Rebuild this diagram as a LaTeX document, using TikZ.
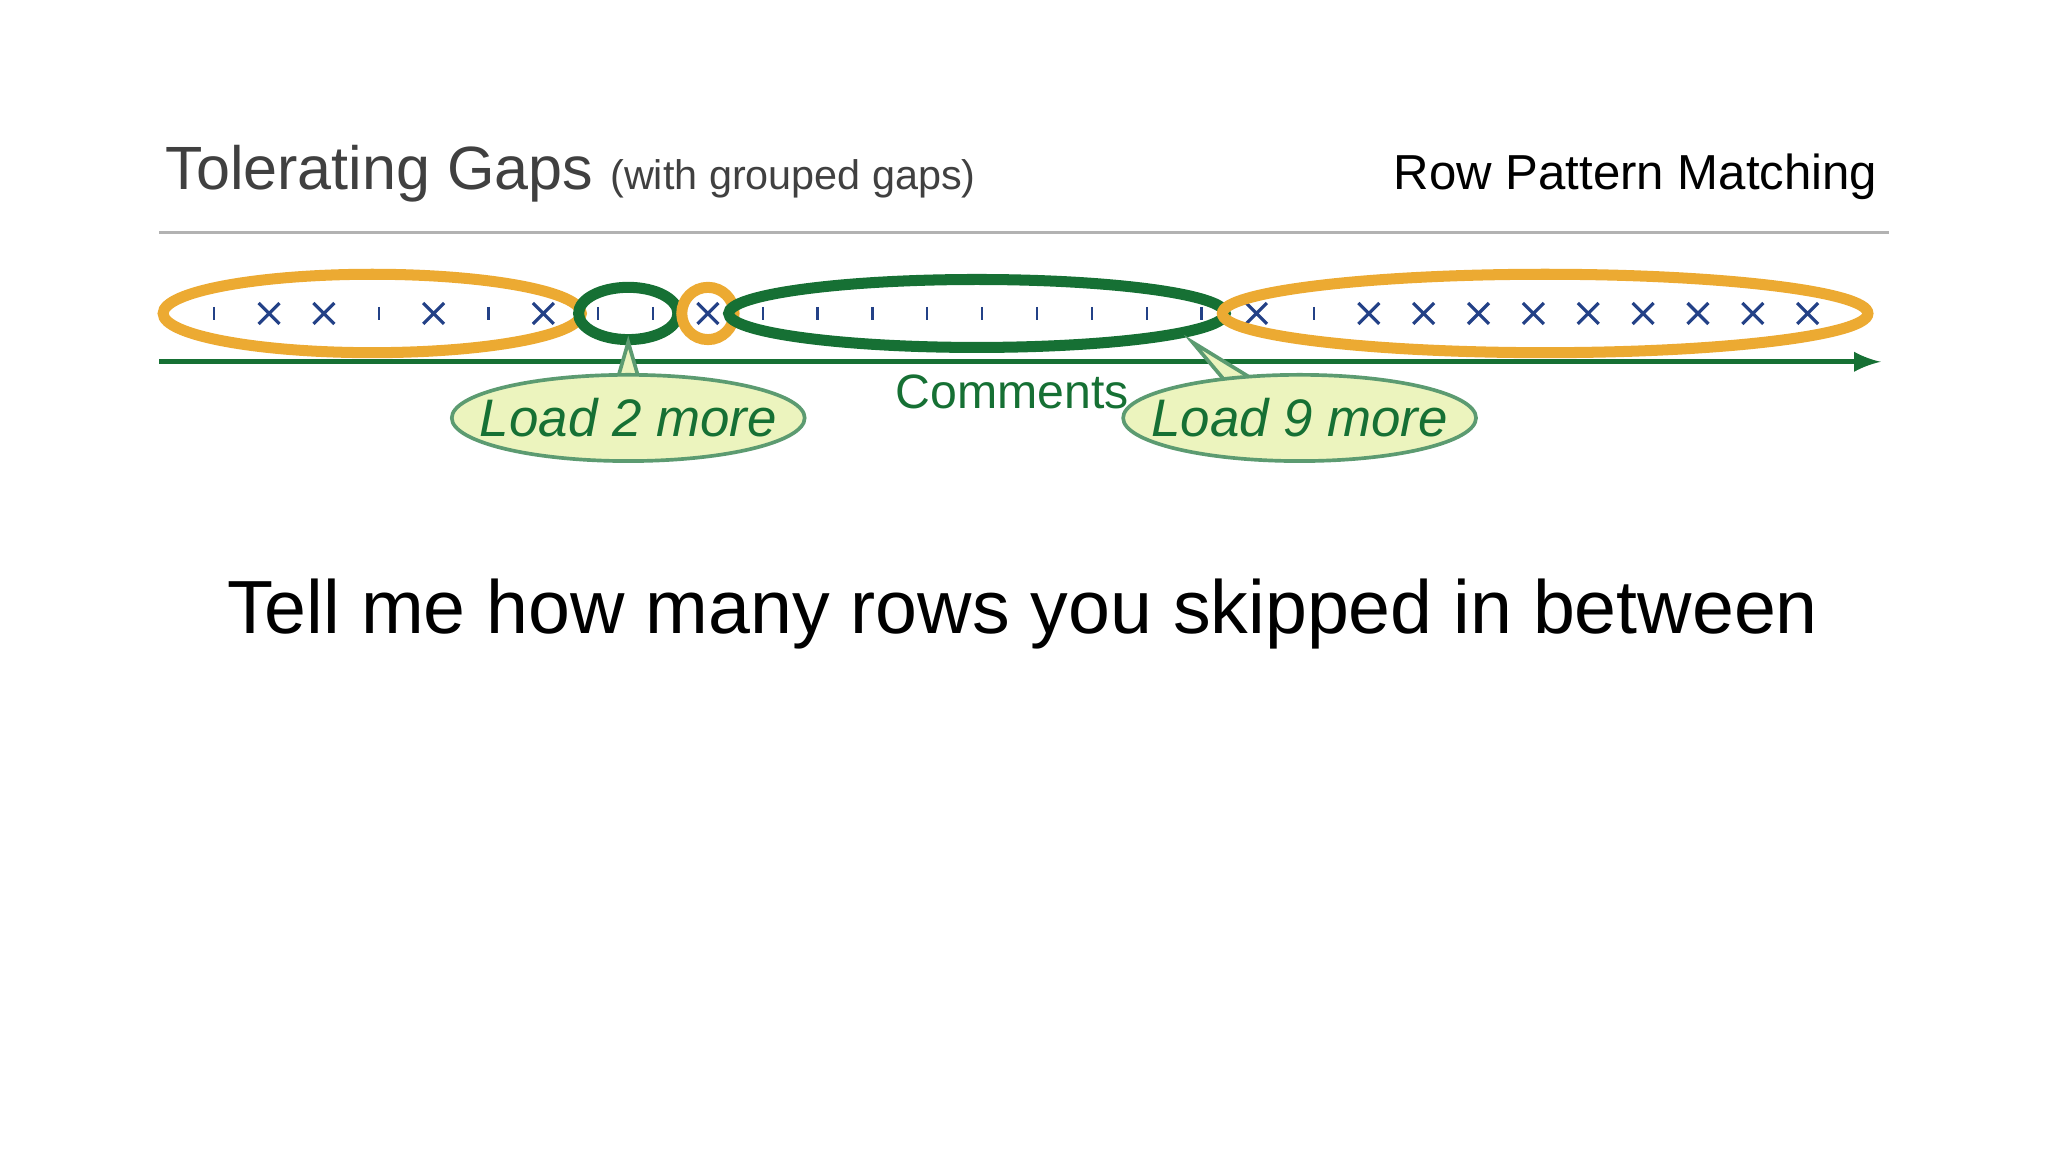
\documentclass[tikz,border=0pt]{standalone}
\usepackage{fontspec}
\setmainfont{Liberation Sans}
\usetikzlibrary{shapes.geometric}
\definecolor{gapgold}{RGB}{236,170,50}
\definecolor{gapgreen}{RGB}{22,112,52}
\definecolor{rowblue}{RGB}{35,65,135}
\definecolor{bubblefill}{RGB}{236,244,190}
\tikzset{
	ring/.style={ellipse, draw, line width=2.4pt, inner sep=0pt},
	goldring/.style={ring, draw=gapgold},
	greenring/.style={ring, draw=gapgreen},
	bubble/.style={ellipse, draw=gapgreen!70, line width=0.8pt, fill=bubblefill, minimum width=2.66cm, minimum height=0.66cm, inner xsep=-0.18cm, inner ysep=0.05cm, text=gapgreen, font=\fontsize{11.5}{11.5}\selectfont\itshape},
}
\begin{document}
\begin{tikzpicture}[x=0.01cm, y=-0.01cm]
	\useasboundingbox (0,0) rectangle (1568,882);
	\node[anchor=base west, inner sep=0pt, text=black!75] (title) at (126,145) {\fontsize{13.3}{13.3}\selectfont Tolerating Gaps \fontsize{9}{9}\selectfont (with grouped gaps)};
	\node[anchor=base east, inner sep=0pt] (topic) at (1438,145) {\fontsize{10.7}{10.7}\selectfont Row Pattern Matching};
	\draw[black!30, line width=0.6pt] (122,178) -- (1446,178);
	% axis
	\draw[gapgreen, line width=1pt, -latex] (122,277) -- (1440,277);
	% rows
	\foreach \x/\k in {164/0,206/1,248/1,290/0,332/1,374/0,416/1,458/0,500/0,542/1,584/0,626/0,668/0,710/0,752/0,794/0,836/0,878/0,920/0,962/1,1006/0,1048/1,1090/1,1132/1,1174/1,1216/1,1258/1,1300/1,1342/1,1384/1}{
		\ifnum\k=1
			\draw[rowblue, line width=0.7pt] (\x-8,232) -- (\x+8,248) (\x-8,248) -- (\x+8,232);
		\else
			\draw[rowblue, line width=0.5pt] (\x,235) -- (\x,245);
		\fi
	}
	% groups
	\node[goldring, minimum width=3.2cm, minimum height=0.6cm] (g1) at (285,240) {};
	\node[greenring, minimum width=0.76cm, minimum height=0.4cm] (gap1) at (481,240) {};
	\node[goldring, minimum width=0.4cm, minimum height=0.4cm] (g2) at (542,240) {};
	\node[greenring, minimum width=3.8cm, minimum height=0.52cm] (gap2) at (748,240) {};
	\node[goldring, minimum width=4.94cm, minimum height=0.6cm] (g3) at (1183,240) {};
	\node[text=gapgreen, font=\fontsize{10.5}{10.5}\selectfont] (axis) at (775,300) {Comments};
	% callouts
	\coordinate (tip1) at (481,262);
	\coordinate (tip2) at (913,262);
	\fill[bubblefill, draw=gapgreen!70, line width=0.8pt] (470,300) -- (tip1) -- (492,300);
	\fill[bubblefill, draw=gapgreen!70, line width=0.8pt] (945,300) -- (tip2) -- (975,300);
	\node[bubble] (load1) at (481,320) {Load 2 more};
	\node[bubble] (load2) at (995,320) {Load 9 more};
	\node[font=\fontsize{16.4}{16.4}\selectfont] (ask) at (783,470) {Tell me how many rows you skipped in between};
\end{tikzpicture}
\end{document}
